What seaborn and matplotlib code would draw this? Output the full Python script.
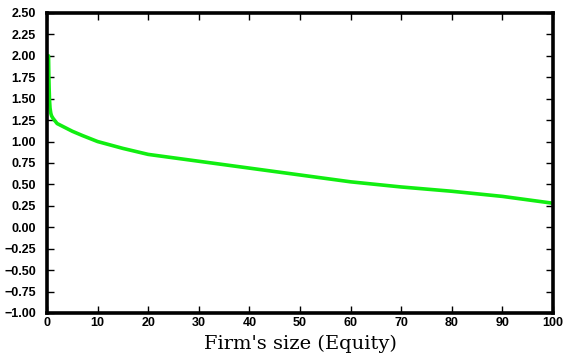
import numpy as np
import pandas as pd
import matplotlib
matplotlib.use("Agg")
import matplotlib.pyplot as plt
import seaborn as sns

# values
equity = [0.3, 0.35, 0.42, 0.5, 0.6, 0.75, 0.9, 1.2, 1.6, 2, 3, 5, 7, 10, 15, 20, 30, 40, 50, 60, 70, 80, 90, 100]
effect = [2.00, 1.80, 1.62, 1.48, 1.39, 1.33, 1.30, 1.27, 1.24, 1.21, 1.18, 1.12, 1.07, 1.00, 0.92, 0.85, 0.77, 0.69, 0.61, 0.53, 0.47, 0.42, 0.36, 0.28]
yticks = [-1.00, -0.75, -0.50, -0.25, 0.00, 0.25, 0.50, 0.75, 1.00, 1.25, 1.50, 1.75, 2.00, 2.25, 2.50]
xticks = [0, 10, 20, 30, 40, 50, 60, 70, 80, 90, 100]

df = pd.DataFrame({"equity": equity, "effect": effect})

sns.set_style("ticks")
plt.rcParams['font.family'] = ['Liberation Sans', 'DejaVu Sans']

fig = plt.figure(figsize=(5.69, 3.6), dpi=100)
ax = fig.add_axes([0.0826, 0.1306, 0.8894, 0.8334])

sns.lineplot(data=df, x="equity", y="effect", ax=ax, color="#11ee11", linewidth=2.6)

ax.set_xlim(0, 100)
ax.set_ylim(-1.0, 2.5)
ax.set_xticks(xticks)
ax.set_yticks(yticks)
ax.set_xticklabels([str(v) for v in xticks], fontsize=9, fontweight="bold")
ax.set_yticklabels([f"{v:.2f}".replace("-", "\u2212") for v in yticks], fontsize=9, fontweight="bold")
ax.tick_params(direction="in", length=5, width=1, top=True, right=True, pad=3,
               colors="black")
ax.tick_params(axis="y", pad=8)
for s in ax.spines.values():
    s.set_linewidth(2.6)
    s.set_color("black")
    s.set_visible(True)

ax.set_xlabel("Firm's size (Equity)", fontsize=14, family=["DejaVu Serif"], labelpad=4, color="black")
ax.set_ylabel("")

fig.savefig("out.png", dpi=100)
